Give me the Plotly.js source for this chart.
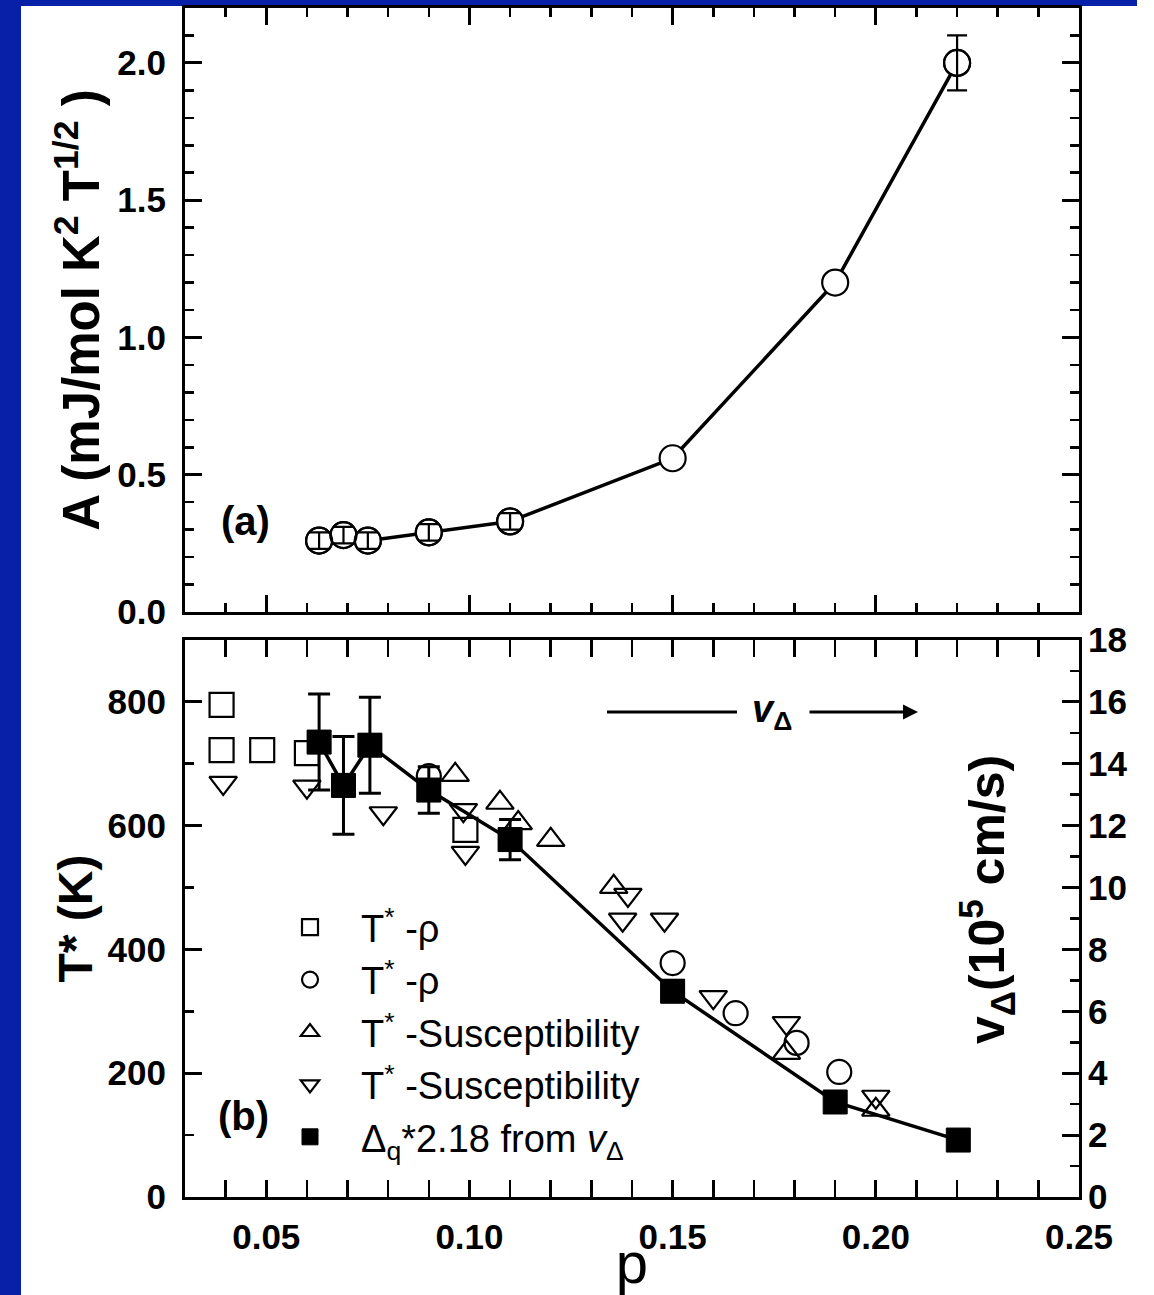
<!DOCTYPE html>
<html>
<head>
<meta charset="utf-8">
<script src="https://cdn.plot.ly/plotly-3.0.1.min.js"></script>
<style>
  html, body { margin: 0; padding: 0; background: #ffffff; }
  #wrap { position: relative; width: 1154px; height: 1295px; overflow: hidden; background: #ffffff; }
  #blueLeft { position: absolute; left: 0; top: 0; width: 21px; height: 1295px; background: #0820a8; }
  #blueTop { position: absolute; left: 0; top: 0; width: 1137px; height: 6px; background: #0820a8; }
  #chart { position: absolute; left: 0; top: 0; width: 1154px; height: 1295px; }
</style>
</head>
<body>
<div id="wrap">
  <div id="blueLeft"></div>
  <div id="blueTop"></div>
  <div id="chart"></div>
</div>
<script>
// ---------- Panel (a): coefficient A vs hole doping p ----------
const pA   = [0.063, 0.069, 0.075, 0.090, 0.110, 0.150, 0.190, 0.220];
const valA = [0.26,  0.28,  0.26,  0.29,  0.33,  0.56,  1.20,  2.00];
const errA = [0.03,  0.03,  0.03,  0.03,  0.03,  0.0,   0.0,   0.10];

// ---------- Panel (b): T* from various probes (left axis, K) ----------
const pSq  = [0.039, 0.039, 0.049, 0.060, 0.099];
const tSq  = [795,   722,   722,   717,   593];

const pCi  = [0.090, 0.150, 0.1655, 0.1805, 0.191];
const tCi  = [680,   378,   297,    249,    202];

const pTu  = [0.0965, 0.1075, 0.112, 0.120, 0.1355, 0.178, 0.200];
const tTu  = [682,    637,    604,   577,   501,    233,   141];

const pTd  = [0.0394, 0.060, 0.0788, 0.0985, 0.099, 0.139, 0.1377, 0.148, 0.160, 0.178, 0.200];
const tTd  = [669,    663,   620,    625,    556,   488,   448,    448,   323,   281,   162];

// ---------- Panel (b): v_Delta (right axis, 10^5 cm/s) ----------
const pV   = [0.063, 0.069, 0.0755, 0.090, 0.110, 0.150, 0.190, 0.2203];
const valV = [14.7,  13.3,  14.6,   13.15, 11.55, 6.65,  3.07,  1.84];
const errV = [1.55,  1.58,  1.55,   0.75,  0.65,  0.3,   0.0,   0.0];

// ---------- Labels ----------
const legendNames = [
  'T<sup>*</sup> -ρ',
  'T<sup>*</sup> -ρ',
  'T<sup>*</sup> -Susceptibility',
  'T<sup>*</sup> -Susceptibility',
  'Δ<sub>q</sub>*2.18 from <i>v</i><sub>Δ</sub>'
];
const titleA  = 'A (mJ/mol K<sup>2</sup> T<sup>1/2</sup> )';
const titleT  = 'T* (K)';
const titleV  = 'v<sub>Δ</sub>(10<sup>5</sup> cm/s)';
const titleP  = 'p';

const FONT = '"Liberation Sans", Arial, Helvetica, sans-serif';
const tickFont = {family: FONT, size: 35, color: '#000', weight: 'bold'};
const openMarker = (sym) => ({symbol: sym, size: 24, color: 'rgba(0,0,0,0)', line: {color: '#000', width: 2.2}});

// subsets with a non-zero error bar (built from the arrays above)
const idxA = errA.map((e, i) => e > 0 ? i : -1).filter(i => i >= 0);
const idxV = errV.map((e, i) => e > 0 ? i : -1).filter(i => i >= 0);

const traces = [
  // panel (a) line + white-filled circles
  {x: pA, y: valA, xaxis: 'x2', yaxis: 'y', mode: 'lines+markers', showlegend: false,
   line: {color: '#000', width: 3.5},
   marker: {symbol: 'circle', size: 26, color: '#fff', line: {color: '#000', width: 2.2}}},
  // panel (a) error bars visible through circles
  {x: idxA.map(i => pA[i]), y: idxA.map(i => valA[i]), xaxis: 'x2', yaxis: 'y', mode: 'markers', showlegend: false,
   marker: {symbol: 'circle', size: 26, color: 'rgba(0,0,0,0)', line: {color: '#000', width: 2.2}},
   error_y: {type: 'data', array: idxA.map(i => errA[i]), visible: true, color: '#000', thickness: 2.2, width: 10}},
  // panel (b) open symbols
  {x: pSq, y: tSq, xaxis: 'x', yaxis: 'y2', mode: 'markers', name: legendNames[0], marker: openMarker('square')},
  {x: pCi, y: tCi, xaxis: 'x', yaxis: 'y2', mode: 'markers', name: legendNames[1], marker: openMarker('circle')},
  {x: pTu, y: tTu, xaxis: 'x', yaxis: 'y2', mode: 'markers', name: legendNames[2], marker: openMarker('triangle-up')},
  {x: pTd, y: tTd, xaxis: 'x', yaxis: 'y2', mode: 'markers', name: legendNames[3], marker: openMarker('triangle-down')},
  // v_Delta line (right axis)
  {x: pV, y: valV, xaxis: 'x', yaxis: 'y3', mode: 'lines', showlegend: false,
   line: {color: '#000', width: 3.5}},
  // v_Delta error bars
  {x: idxV.map(i => pV[i]), y: idxV.map(i => valV[i]), xaxis: 'x', yaxis: 'y3', mode: 'markers', showlegend: false,
   marker: {symbol: 'square', size: 24, color: '#000'},
   error_y: {type: 'data', array: idxV.map(i => errV[i]), visible: true, color: '#000', thickness: 3, width: 11}},
  // v_Delta filled squares
  {x: pV, y: valV, xaxis: 'x', yaxis: 'y3', mode: 'markers', name: legendNames[4],
   marker: {symbol: 'square', size: 24, color: '#000', line: {color: '#000', width: 1}}}
];

const axLine = {showline: true, linecolor: '#000', linewidth: 3, showgrid: false, zeroline: false,
                ticks: 'inside', tickcolor: '#000', tickwidth: 3, ticklen: 17};

const P = (px) => (px - 185) / 894;       // pixel -> paper x helper for decorations
const Q = (py) => (1197 - py) / 1189;     // pixel -> paper y helper for decorations

const layout = {
  width: 1154, height: 1295,
  margin: {l: 185, r: 75, t: 8, b: 98},
  paper_bgcolor: 'rgba(0,0,0,0)',
  plot_bgcolor: '#ffffff',
  font: {family: FONT, color: '#000'},
  showlegend: true,
  legend: {x: P(259), y: Q(896), xanchor: 'left', yanchor: 'top', bgcolor: 'rgba(0,0,0,0)',
           borderwidth: 0, itemwidth: 92, font: {family: FONT, size: 38, color: '#000'},
           tracegroupgap: 0},
  xaxis: Object.assign({}, axLine, {
    domain: [0, 1], anchor: 'y2', range: [0.03, 0.25], tick0: 0, dtick: 0.05, tickformat: '.2f',
    mirror: 'allticks', tickfont: tickFont, ticklabelstandoff: 7,
    minor: {dtick: 0.01, ticks: 'inside', ticklen: 9, tickwidth: 2.5, tickcolor: '#000'},
    title: {text: titleP, font: {family: FONT, size: 58, color: '#000'}, standoff: 0}
  }),
  xaxis2: Object.assign({}, axLine, {
    domain: [0, 1], anchor: 'y', matches: 'x', range: [0.03, 0.25], tick0: 0, dtick: 0.05,
    mirror: 'allticks', showticklabels: false,
    minor: {dtick: 0.01, ticks: 'inside', ticklen: 9, tickwidth: 2.5, tickcolor: '#000'}
  }),
  yaxis: Object.assign({}, axLine, {
    domain: [0.492, 1], anchor: 'x2', range: [0, 2.2], tick0: 0, dtick: 0.5, tickformat: '.1f',
    mirror: 'allticks', tickfont: tickFont, ticklabelstandoff: 9,
    minor: {dtick: 0.1, ticks: 'inside', ticklen: 9, tickwidth: 2.5, tickcolor: '#000'},
    title: {text: titleA, font: {family: FONT, size: 51, color: '#000', weight: 'bold'}, standoff: 2}
  }),
  yaxis2: Object.assign({}, axLine, {
    domain: [0, 0.4685], anchor: 'x', range: [0, 900], tick0: 0, dtick: 200,
    mirror: false, tickfont: tickFont, ticklabelstandoff: 9,
    minor: {dtick: 100, ticks: 'inside', ticklen: 9, tickwidth: 2.5, tickcolor: '#000'},
    title: {text: titleT, font: {family: FONT, size: 48, color: '#000', weight: 'bold'}, standoff: 0}
  }),
  yaxis3: Object.assign({}, axLine, {
    overlaying: 'y2', side: 'right', anchor: 'x', range: [0, 18], tick0: 0, dtick: 2,
    tickfont: tickFont, ticklabelstandoff: -1,
    minor: {dtick: 1, ticks: 'inside', ticklen: 9, tickwidth: 2.5, tickcolor: '#000'}
  }),
  shapes: [
    {type: 'line', xref: 'paper', yref: 'paper', x0: P(607), x1: P(737), y0: Q(712), y1: Q(712),
     line: {color: '#000', width: 3}}
  ],
  annotations: [
    {text: '(a)', xref: 'paper', yref: 'paper', x: P(245), y: Q(521), xanchor: 'center', yanchor: 'middle',
     showarrow: false, font: {family: FONT, size: 40, color: '#000', weight: 'bold'}},
    {text: '(b)', xref: 'paper', yref: 'paper', x: P(243), y: Q(1116), xanchor: 'center', yanchor: 'middle',
     showarrow: false, font: {family: FONT, size: 40, color: '#000', weight: 'bold'}},
    {text: '<i>v</i><sub>Δ</sub>', xref: 'paper', yref: 'paper', x: P(772), y: Q(712), xanchor: 'center', yanchor: 'middle',
     showarrow: false, font: {family: FONT, size: 38, color: '#000', weight: 'bold'}},
    {text: '', xref: 'paper', yref: 'paper', x: P(918), y: Q(712), ax: -110, ay: 0,
     showarrow: true, arrowhead: 2, arrowsize: 1, arrowwidth: 3, arrowcolor: '#000'},
    // right-hand axis title (sits inside the frame, as in the original)
    {text: titleV, xref: 'paper', yref: 'paper', x: P(986), y: Q(900), xanchor: 'center', yanchor: 'middle',
     textangle: -90, showarrow: false, font: {family: FONT, size: 50, color: '#000', weight: 'bold'}}
  ]
};

Plotly.newPlot('chart', traces, layout, {staticPlot: true, displayModeBar: false});
</script>
</body>
</html>
